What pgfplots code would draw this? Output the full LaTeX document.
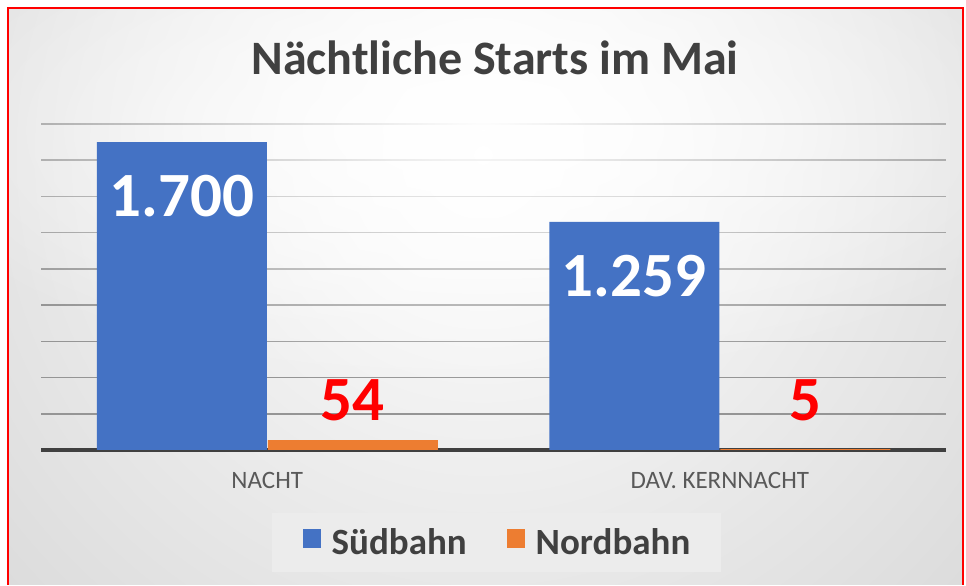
\documentclass[border=0pt]{standalone}
\usepackage{fontspec}
\setmainfont{Carlito}
\usepackage{pgfplots}
\pgfplotsset{compat=1.18}
\usetikzlibrary{fadings}
\definecolor{sued}{HTML}{4472C4}
\definecolor{nord}{HTML}{ED7D31}
\definecolor{txtdark}{HTML}{404040}
\definecolor{txtgray}{HTML}{595959}
\definecolor{gridc}{HTML}{959595}
\definecolor{bgout}{HTML}{B8B8B8}
\definecolor{legbg}{HTML}{ECECEC}
\tikzfading[name=glowfade, inner color=transparent!0, outer color=transparent!100]
\pgfplotsset{frame/.style={
  at={(41pt,135pt)}, anchor=south west, scale only axis,
  width=905pt, height=326pt,
  xmin=-0.5, xmax=1.5, ymin=0, ymax=1800,
  major tick length=0pt, tick style={draw=none},
  axis line style={draw=none}}}
\begin{document}
\begin{tikzpicture}[x=1pt,y=1pt]
\fill[white] (0,0) rectangle (966,585);
\begin{scope}
\clip (8,0) rectangle (963,577);
\shade[inner color=white, outer color=bgout] (483,430) circle (1300);
\end{scope}
% grid only
\begin{axis}[frame,
  ytick={200,400,...,1800}, yticklabels={},
  xtick=\empty,
  ymajorgrids,
  major grid style={draw=gridc, line width=1.5pt}]
\end{axis}
% soft light over the upper middle
\begin{scope}
\clip (8,0) rectangle (963,577);
\fill[white, path fading=glowfade] (-117,195) rectangle (1083,715);
\end{scope}
\draw[red, line width=2pt] (8,0) -- (8,577) -- (963,577) -- (963,0);
\node[font=\fontsize{48}{52}\selectfont\bfseries, text=txtdark, anchor=base, inner sep=0pt] at (495,510) {Nächtliche Starts im Mai};
\begin{axis}[frame,
  ybar=1pt, bar width=170pt,
  ytick=\empty,
  xtick={0,1}, xticklabels={NACHT, DAV. KERNNACHT},
  xticklabel style={font=\fontsize{25}{28}\selectfont, text=txtgray, inner sep=0pt, yshift=-22pt},
  extra y ticks={0}, extra y tick labels={},
  extra y tick style={ymajorgrids=true, major grid style={draw=txtdark, line width=3.5pt}},
  /pgf/number format/1000 sep={.},
  /pgf/number format/assume math mode=true,
  legend columns=2,
  legend style={at={(0.5033,-0.2837)}, anchor=center, draw=none, fill=legbg,
    font=\fontsize{37}{40}\selectfont\bfseries, text=txtdark,
    inner xsep=31pt, inner ysep=16pt, column sep=0pt,
    nodes={inner sep=0pt},
    /tikz/every odd column/.append style={column sep=11pt},
    /tikz/every even column/.append style={column sep=40pt}},
]
\addplot[fill=sued, draw=none, bar shift=-85.5pt,
  legend image code/.code={\fill[sued] (0pt,-5pt) rectangle (18pt,14pt);},
  nodes near coords,
  every node near coord/.append style={anchor=center, yshift=-54pt, text=white, font=\fontsize{63}{66}\selectfont\bfseries}]
  coordinates {(0,1700) (1,1259)};
\addplot[fill=nord, draw=none, bar shift=85.5pt,
  legend image code/.code={\fill[nord] (0pt,-5pt) rectangle (18pt,14pt);}]
  coordinates {(0,54) (1,5)};
\addplot[draw=none, fill=none, bar shift=85.5pt, forget plot,
  point meta=explicit, nodes near coords,
  every node near coord/.append style={anchor=center, text=red, font=\fontsize{63}{66}\selectfont\bfseries}]
  coordinates {(0,276) [54] (1,276) [5]};
\legend{Südbahn, Nordbahn}
\end{axis}
\end{tikzpicture}
\end{document}
